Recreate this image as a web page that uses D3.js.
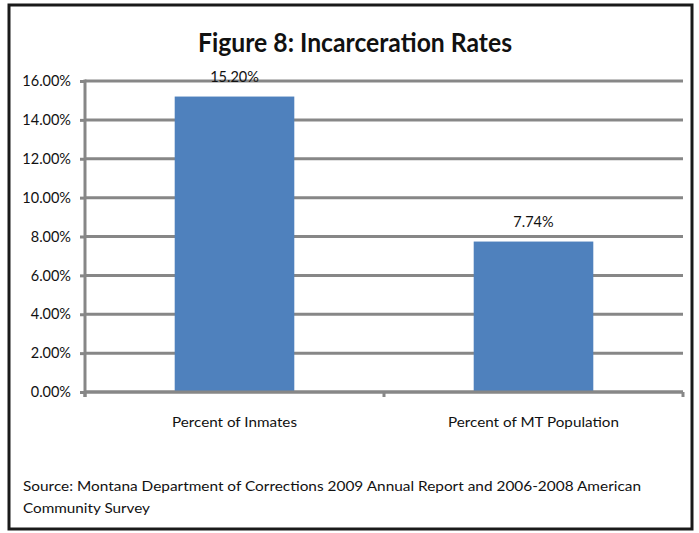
<!DOCTYPE html>
<html>
<head>
<meta charset="utf-8">
<script src="https://cdn.jsdelivr.net/npm/d3@7/dist/d3.min.js"></script>
<style>
  html, body { margin: 0; padding: 0; background: #fff; }
  svg { display: block; }
  text { font-family: Lato, "Open Sans", sans-serif; fill: #111; }
</style>
</head>
<body>
<svg id="chart" width="699" height="533"></svg>
<script>
// Chart data
const categories = ["Percent of Inmates", "Percent of MT Population"];
const values = [15.20, 7.74];
const valueLabels = ["15.20%", "7.74%"];
const yTicks = [0, 2, 4, 6, 8, 10, 12, 14, 16];
const titleText = "Figure 8: Incarceration Rates";
const sourceLines = [
  "Source: Montana Department of Corrections 2009 Annual Report and 2006-2008 American",
  "Community Survey"
];

const svg = d3.select("#chart");
const plot = { left: 85, right: 683, top: 81, bottom: 392 };
const gridColor = "#878787";
const barColor = "#4f81bd";

// Outer frame
svg.append("rect")
  .attr("x", 9).attr("y", 5)
  .attr("width", 683).attr("height", 524)
  .attr("fill", "#fff")
  .attr("stroke", "#1a1a1a")
  .attr("stroke-width", 3);

// Title
svg.append("text")
  .attr("x", 355).attr("y", 52)
  .attr("text-anchor", "middle")
  .attr("font-weight", "bold")
  .attr("font-size", 26)
  .attr("textLength", 314)
  .attr("lengthAdjust", "spacingAndGlyphs")
  .text(titleText);

const y = d3.scaleLinear().domain([0, 16]).range([plot.bottom, plot.top]);
const x = d3.scaleBand().domain(categories).range([plot.left, plot.right])
  .paddingInner(0).paddingOuter(0);

// Horizontal gridlines
svg.append("g")
  .selectAll("line")
  .data(yTicks)
  .join("line")
  .attr("x1", plot.left).attr("x2", plot.right)
  .attr("y1", d => y(d)).attr("y2", d => y(d))
  .attr("stroke", gridColor)
  .attr("stroke-width", 3);

// Y axis with tick labels
const yAxis = d3.axisLeft(y)
  .tickValues(yTicks)
  .tickSize(5)
  .tickPadding(9)
  .tickFormat(d => d.toFixed(2) + "%");
const gy = svg.append("g")
  .attr("transform", `translate(${plot.left},0)`)
  .call(yAxis);
gy.select(".domain").remove();
gy.append("line")
  .attr("x1", 0).attr("x2", 0)
  .attr("y1", plot.top - 1.5).attr("y2", plot.bottom + 5)
  .attr("stroke", gridColor).attr("stroke-width", 3);
gy.selectAll(".tick line").attr("stroke", gridColor).attr("stroke-width", 3);
gy.selectAll(".tick text")
  .attr("font-size", 14.5)
  .attr("fill", "#111")
  .attr("font-family", "Lato, sans-serif");

// Bars (Excel gap width 150%)
const barW = x.bandwidth() / 2.5;
svg.append("g")
  .selectAll("rect")
  .data(values)
  .join("rect")
  .attr("x", (d, i) => x(categories[i]) + x.bandwidth() / 2 - barW / 2)
  .attr("y", d => y(d))
  .attr("width", barW)
  .attr("height", d => y(0) - y(d))
  .attr("fill", barColor);

// Value labels
svg.append("g")
  .selectAll("text")
  .data(values)
  .join("text")
  .attr("x", (d, i) => x(categories[i]) + x.bandwidth() / 2)
  .attr("y", d => y(d) - 15)
  .attr("text-anchor", "middle")
  .attr("font-size", 14.5)
  .text((d, i) => valueLabels[i]);

// X axis line and category boundary ticks
svg.append("line")
  .attr("x1", plot.left).attr("x2", plot.right)
  .attr("y1", y(0)).attr("y2", y(0))
  .attr("stroke", gridColor).attr("stroke-width", 3);
const boundaries = [plot.left, ...categories.map(c => x(c) + x.bandwidth())];
svg.append("g")
  .selectAll("line")
  .data(boundaries)
  .join("line")
  .attr("x1", d => d).attr("x2", d => d)
  .attr("y1", y(0)).attr("y2", y(0) + 5)
  .attr("stroke", gridColor).attr("stroke-width", 3);

// Category labels
const catWidths = [125, 171];
svg.append("g")
  .selectAll("text")
  .data(categories)
  .join("text")
  .attr("x", d => x(d) + x.bandwidth() / 2)
  .attr("y", 427)
  .attr("text-anchor", "middle")
  .attr("font-size", 14)
  .attr("textLength", (d, i) => catWidths[i])
  .attr("lengthAdjust", "spacingAndGlyphs")
  .text(d => d);

// Source note
const srcWidths = [618, 127];
svg.append("g")
  .selectAll("text")
  .data(sourceLines)
  .join("text")
  .attr("x", 23)
  .attr("y", (d, i) => 491 + i * 22)
  .attr("font-size", 14)
  .attr("textLength", (d, i) => srcWidths[i])
  .attr("lengthAdjust", "spacingAndGlyphs")
  .text(d => d);
</script>
</body>
</html>
